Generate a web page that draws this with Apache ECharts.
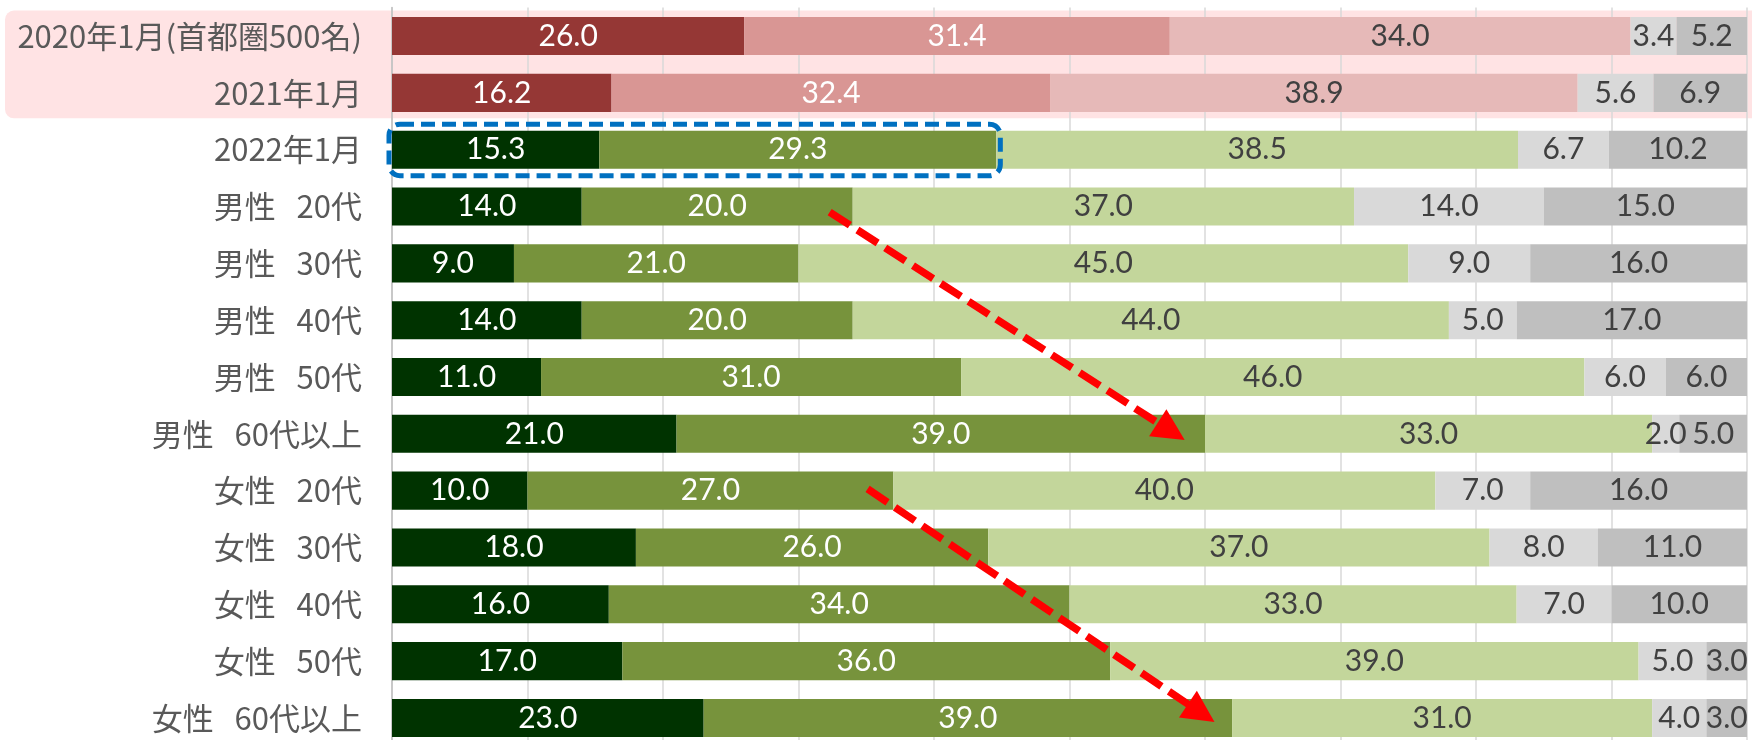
<!DOCTYPE html>
<html>
<head>
<meta charset="utf-8">
<script src="https://cdn.jsdelivr.net/npm/echarts@6/dist/echarts.min.js"></script>
<style>
  html, body { margin: 0; padding: 0; background: #ffffff; }
  #chart { width: 1752px; height: 740px; }
</style>
</head>
<body>
<div id="chart"></div>
<script>
// Survey rows, top to bottom
const categories = [
  '2020年1月(首都圏500名)',
  '2021年1月',
  '2022年1月',
  '男性   20代',
  '男性   30代',
  '男性   40代',
  '男性   50代',
  '男性   60代以上',
  '女性   20代',
  '女性   30代',
  '女性   40代',
  '女性   50代',
  '女性   60代以上'
];

// Share of answers (%) for each of the five answer groups
const group1 = [26.0, 16.2, 15.3, 14.0, 9.0, 14.0, 11.0, 21.0, 10.0, 18.0, 16.0, 17.0, 23.0];
const group2 = [31.4, 32.4, 29.3, 20.0, 21.0, 20.0, 31.0, 39.0, 27.0, 26.0, 34.0, 36.0, 39.0];
const group3 = [34.0, 38.9, 38.5, 37.0, 45.0, 44.0, 46.0, 33.0, 40.0, 37.0, 33.0, 39.0, 31.0];
const group4 = [3.4, 5.6, 6.7, 14.0, 9.0, 5.0, 6.0, 2.0, 7.0, 8.0, 7.0, 5.0, 4.0];
const group5 = [5.2, 6.9, 10.2, 15.0, 16.0, 17.0, 6.0, 5.0, 16.0, 11.0, 10.0, 3.0, 3.0];
const groupNames = ['区分1', '区分2', '区分3', '区分4', '区分5'];

// Number of earlier-survey rows (drawn in red tones on a pink band)
const earlierRows = 2;

// Trend arrows: [value, row index, offset as share of row height]
const arrowStarts = [[32.3, 3, 0.10], [35.1, 8, -0.03]];
const arrowEnds   = [[58.5, 7, 0.11], [60.7, 12, 0.07]];

// Highlighted part of the 2022 row: first two groups
const highlightRow = 2;

const earlierColors = ['#953735', '#D99694', '#E6B9B8', '#D9D9D9', '#BFBFBF'];
const currentColors = ['#003300', '#77933C', '#C3D69B', '#D9D9D9', '#BFBFBF'];
const labelColors   = ['#ffffff', '#ffffff', '#404040', '#404040', '#404040'];

const groups = [group1, group2, group3, group4, group5];

const series = groups.map((values, g) => ({
  name: groupNames[g],
  type: 'bar',
  stack: 'total',
  barCategoryGap: '33%',
  data: values.map((v, i) => ({
    value: v,
    itemStyle: { color: (i < earlierRows ? earlierColors : currentColors)[g] }
  })),
  label: {
    show: true,
    position: 'inside',
    formatter: p => Number(p.value).toFixed(1),
    color: labelColors[g],
    fontFamily: 'Lato',
    fontSize: 30
  }
}));

const chart = echarts.init(document.getElementById('chart'), null, { renderer: 'canvas' });

chart.setOption({
  animation: false,
  backgroundColor: '#ffffff',
  // plot runs a little past the lower edge of the canvas
  grid: {
    left: 392, right: 5, top: 7.6, height: 738.8,
    containLabel: false,
    outerBoundsMode: 'none'
  },
  xAxis: {
    type: 'value',
    min: 0,
    max: 100,
    interval: 10,
    axisLabel: { show: false },
    axisLine: { show: false },
    axisTick: { show: false },
    splitLine: { show: true, lineStyle: { color: '#D9D9D9', width: 1.5 } }
  },
  yAxis: {
    type: 'category',
    inverse: true,
    data: categories,
    axisTick: { show: false },
    axisLine: { show: true, lineStyle: { color: '#BFBFBF', width: 1.5 } },
    axisLabel: {
      color: '#595959',
      fontFamily: '"Noto Sans CJK JP", "Noto Sans", sans-serif',
      fontSize: 31,
      margin: 30
    }
  },
  series: series
});

// Annotation overlays, placed through the chart's own coordinate system
const toPx = (x, row) => chart.convertToPixel({ gridIndex: 0 }, [x, row]);
const rowY = row => toPx(0, row)[1];
const band = rowY(1) - rowY(0);
const barH = band * 0.67;

const graphics = [];

// Pink band behind the earlier-survey rows
const bandTop = rowY(0) - band / 2 + 3;
const bandBottom = rowY(earlierRows - 1) + band / 2 - 3;
graphics.push({
  type: 'rect',
  z: -1,
  silent: true,
  shape: { x: 5, y: bandTop, width: 1752 + 20, height: bandBottom - bandTop, r: 9 },
  style: { fill: '#FFE3E4' }
});

// Dashed outline around the first two groups of the 2022 row
const hlEnd = group1[highlightRow] + group2[highlightRow];
const hlX0 = toPx(0, highlightRow)[0] - 3;
const hlX1 = toPx(hlEnd, highlightRow)[0] + 4;
const hlY0 = rowY(highlightRow) - barH / 2 - 6.5;
const hlY1 = rowY(highlightRow) + barH / 2 + 7;
graphics.push({
  type: 'rect',
  z: 10,
  silent: true,
  shape: { x: hlX0, y: hlY0, width: hlX1 - hlX0, height: hlY1 - hlY0, r: 11 },
  style: { fill: 'none', stroke: '#0070C0', lineWidth: 5, lineDash: [14, 7] }
});

// Red dashed trend arrows
arrowStarts.forEach((s, k) => {
  const e = arrowEnds[k];
  const p0 = toPx(s[0], s[1]); p0[1] += s[2] * band;
  const p1 = toPx(e[0], e[1]); p1[1] += e[2] * band;
  const dx = p1[0] - p0[0], dy = p1[1] - p0[1];
  const len = Math.hypot(dx, dy);
  const ux = dx / len, uy = dy / len;
  const headLen = 32, headHalf = 16;
  const bx = p1[0] - ux * headLen, by = p1[1] - uy * headLen;
  graphics.push({
    type: 'line',
    z: 20,
    silent: true,
    shape: { x1: p0[0], y1: p0[1], x2: bx + ux * 2, y2: by + uy * 2 },
    style: { stroke: '#FF0000', lineWidth: 7.5, lineDash: [24, 9] }
  });
  graphics.push({
    type: 'polygon',
    z: 20,
    silent: true,
    shape: {
      points: [
        [p1[0], p1[1]],
        [bx - uy * headHalf, by + ux * headHalf],
        [bx + uy * headHalf, by - ux * headHalf]
      ]
    },
    style: { fill: '#FF0000' }
  });
});

chart.setOption({ graphic: graphics });
</script>
</body>
</html>
